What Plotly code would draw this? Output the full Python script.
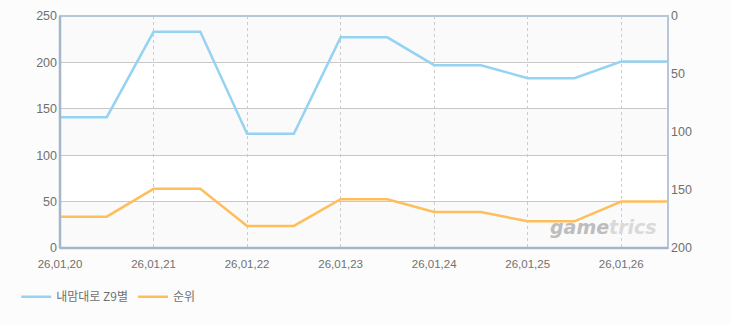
import plotly.graph_objects as go

dates = ["2026-01-20 00:00", "2026-01-20 12:00", "2026-01-21 00:00", "2026-01-21 12:00",
         "2026-01-22 00:00", "2026-01-22 12:00", "2026-01-23 00:00", "2026-01-23 12:00",
         "2026-01-24 00:00", "2026-01-24 12:00", "2026-01-25 00:00", "2026-01-25 12:00",
         "2026-01-26 00:00", "2026-01-26 12:00"]
score = [141, 141, 233, 233, 123, 123, 227, 227, 197, 197, 183, 183, 201, 201]
rank = [173, 173, 149, 149, 181, 181, 158, 158, 169, 169, 177, 177, 160, 160]
series_names = ["내맘대로 Z9별", "순위"]
left_ticks = [0, 50, 100, 150, 200, 250]
right_ticks = [0, 50, 100, 150, 200]

blue = "#96d3f2"
orange = "#ffbe5c"
font_family = "Noto Sans CJK KR, DejaVu Sans, sans-serif"
tick_family = "Liberation Sans, Arial, sans-serif"
tick_color = "#707070"

fig = go.Figure()
fig.add_trace(go.Scatter(x=dates, y=score, name=series_names[0], mode="lines",
                         line=dict(color=blue, width=2.5), yaxis="y"))
fig.add_trace(go.Scatter(x=dates, y=rank, name=series_names[1], mode="lines",
                         line=dict(color=orange, width=2.5), yaxis="y2"))

# subtle alternating bands
for lo in (0, 100, 200):
    fig.add_shape(type="rect", xref="paper", yref="y", x0=0, x1=1, y0=lo, y1=lo + 50,
                  fillcolor="#fafafa", line=dict(width=0), layer="below")

# frame
fig.add_shape(type="rect", xref="paper", yref="paper", x0=0, x1=1, y0=0, y1=1,
              line=dict(color="#b6c7d9", width=2), layer="above")
fig.add_shape(type="line", xref="paper", yref="paper", x0=0, x1=0, y0=0, y1=1,
              line=dict(color="#a4b6ca", width=2.5), layer="above")
fig.add_shape(type="line", xref="paper", yref="paper", x0=0, x1=1, y0=0, y1=0,
              line=dict(color="#a4b6ca", width=2.5), layer="above")

fig.add_annotation(xref="paper", yref="paper", x=0.985, y=0.035, xanchor="right", yanchor="bottom",
                   text="<i><b><span style='color:#bdbdbd'>game</span><span style='color:#d9d9d9'>trics</span></b></i>",
                   showarrow=False, font=dict(size=19, family="DejaVu Sans, sans-serif"))

fig.update_layout(
    width=730, height=325,
    margin=dict(l=60, r=62, t=16, b=77, autoexpand=False),
    paper_bgcolor="#fcfcfc", plot_bgcolor="#ffffff",
    font=dict(family=font_family, color=tick_color, size=11),
    showlegend=True,
    legend=dict(orientation="h", x=-0.072, y=-0.21, xanchor="left", yanchor="middle",
                font=dict(size=12, color="#707070"), bgcolor="rgba(0,0,0,0)",
                itemwidth=30, tracegroupgap=0),
    xaxis=dict(type="date", range=["2026-01-20 00:00", "2026-01-26 12:00"],
               tickformat="%y,%m,%d", dtick=86400000, tick0="2026-01-20",
               showgrid=True, gridcolor="#cccccc", griddash="3px,3px", gridwidth=1,
               showline=False, zeroline=False, ticks="", automargin=False,
               ticklabelstandoff=7, tickfont=dict(size=11.5, color=tick_color, family=tick_family)),
    yaxis=dict(range=[0, 250], tickvals=left_ticks, showgrid=True, gridcolor="#c8c8c8",
               gridwidth=1, zeroline=False, showline=False, ticks="", automargin=False,
               ticklabelstandoff=2, tickfont=dict(size=12.5, color=tick_color, family=tick_family)),
    yaxis2=dict(range=[200, 0], tickvals=right_ticks, overlaying="y", side="right",
                showgrid=False, zeroline=False, showline=False, ticks="", automargin=False,
                ticklabelstandoff=2, tickfont=dict(size=12.5, color=tick_color, family=tick_family)),
)

fig.write_html("out.html")
